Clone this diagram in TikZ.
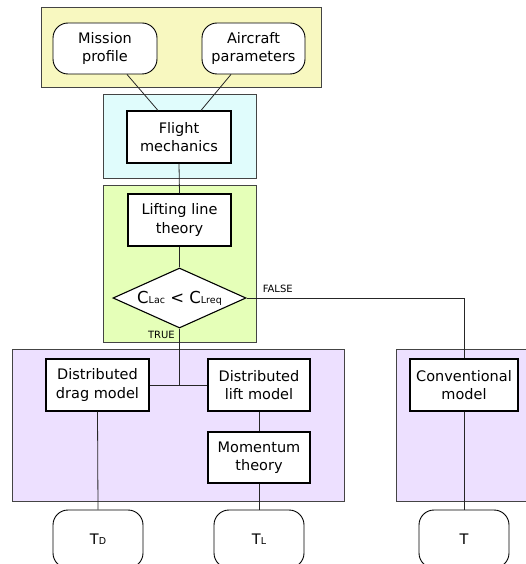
\documentclass[tikz,border=0pt]{standalone}
\usepackage{fontspec}
\setmainfont{DejaVu Sans}
\usetikzlibrary{shapes.geometric}
\definecolor{cyel}{HTML}{F8F8C0}
\definecolor{ccyan}{HTML}{E0FCFC}
\definecolor{cgreen}{HTML}{E5FFB8}
\definecolor{cpurple}{HTML}{EDE0FF}
\definecolor{cedge}{HTML}{444444}
\newcommand{\smallsub}[1]{{\fontsize{9.5}{9.5}\selectfont #1}}
\newcommand{\decsub}[1]{{\fontsize{9.5}{9.5}\selectfont #1}}
\tikzset{
  container/.style={draw=cedge, line width=0.9pt},
  procbox/.style={draw=black, line width=1.1pt, fill=white, inner sep=1pt, align=center,
    font=\fontsize{14.5}{18.5}\selectfont},
  roundbox/.style={procbox, line width=0.9pt, rounded corners=15pt},
  link/.style={draw=black!85, line width=0.8pt},
  lbl/.style={font=\fontsize{10}{10}\selectfont, inner sep=0pt}
}
\begin{document}
\begin{tikzpicture}[x=1pt,y=-1pt]
\useasboundingbox (0,0) rectangle (526,564);
\clip (0,0) rectangle (526,564);
% containers
\draw[container, fill=cyel] (41,7) rectangle (321,87);
\draw[container, fill=ccyan] (103,94) rectangle (256,178);
\draw[container, fill=cgreen] (103,185) rectangle (256,342);
\draw[container, fill=cpurple] (12,349) rectangle (344,501);
\draw[container, fill=cpurple] (396,349) rectangle (540,501);
% nodes
\node[roundbox, minimum width=104, minimum height=51] (mission) at (105,48.5) {Mission\\profile};
\node[roundbox, minimum width=103, minimum height=51] (aircraft) at (253.5,48.5) {Aircraft\\parameters};
\node[procbox, minimum width=104, minimum height=52] (flight) at (179,137) {Flight\\mechanics};
\node[procbox, minimum width=103, minimum height=52] (lifting) at (179.5,220) {Lifting line\\theory};
\node[draw=black, line width=1.1pt, fill=white, diamond, aspect=2.2, inner sep=0pt,
  minimum width=133, minimum height=60] (dec) at (179.5,298) {};
\node[font=\fontsize{16.5}{18.5}\selectfont, inner sep=0pt] (dectext) at (dec.center)
  {C\decsub{Lac} < C\decsub{Lreq}};
\node[procbox, minimum width=103, minimum height=52] (drag) at (97.5,385) {Distributed\\drag model};
\node[procbox, minimum width=102, minimum height=52] (lift) at (259,385) {Distributed\\lift model};
\node[procbox, minimum width=102, minimum height=51] (mom) at (259,457.5) {Momentum\\theory};
\node[procbox, minimum width=108, minimum height=52] (conv) at (464,385) {Conventional\\model};
\node[roundbox, minimum width=90, minimum height=58] (td) at (98,539) {T\smallsub{D}};
\node[roundbox, minimum width=90, minimum height=58] (tl) at (259,539) {T\smallsub{L}};
\node[roundbox, minimum width=90, minimum height=58] (t) at (464,539) {T};
% labels
\node[lbl, anchor=south west] (false) at ([xshift=16pt,yshift=5pt]dec.east) {FALSE};
\node[lbl, anchor=east] (true) at ([xshift=-4.5pt,yshift=-6pt]dec.south) {TRUE};
% connectors
\draw[link] ([xshift=22pt]mission.south) -- ([xshift=-21pt]flight.north);
\draw[link] ([xshift=-22.5pt]aircraft.south) -- ([xshift=22pt]flight.north);
\draw[link] (flight.south) -- (lifting.north);
\draw[link] (lifting.south) -- (dec.north);
\draw[link] (dec.south) -- (dec.south |- drag.east);
\draw[link] (drag.east) -- (lift.west);
\draw[link] (dec.east) -| (conv.north);
\draw[link] (lift.south) -- (mom.north);
\draw[link] (drag.south) -- (td.north);
\draw[link] (mom.south) -- (tl.north);
\draw[link] (conv.south) -- (t.north);
\end{tikzpicture}
\end{document}
